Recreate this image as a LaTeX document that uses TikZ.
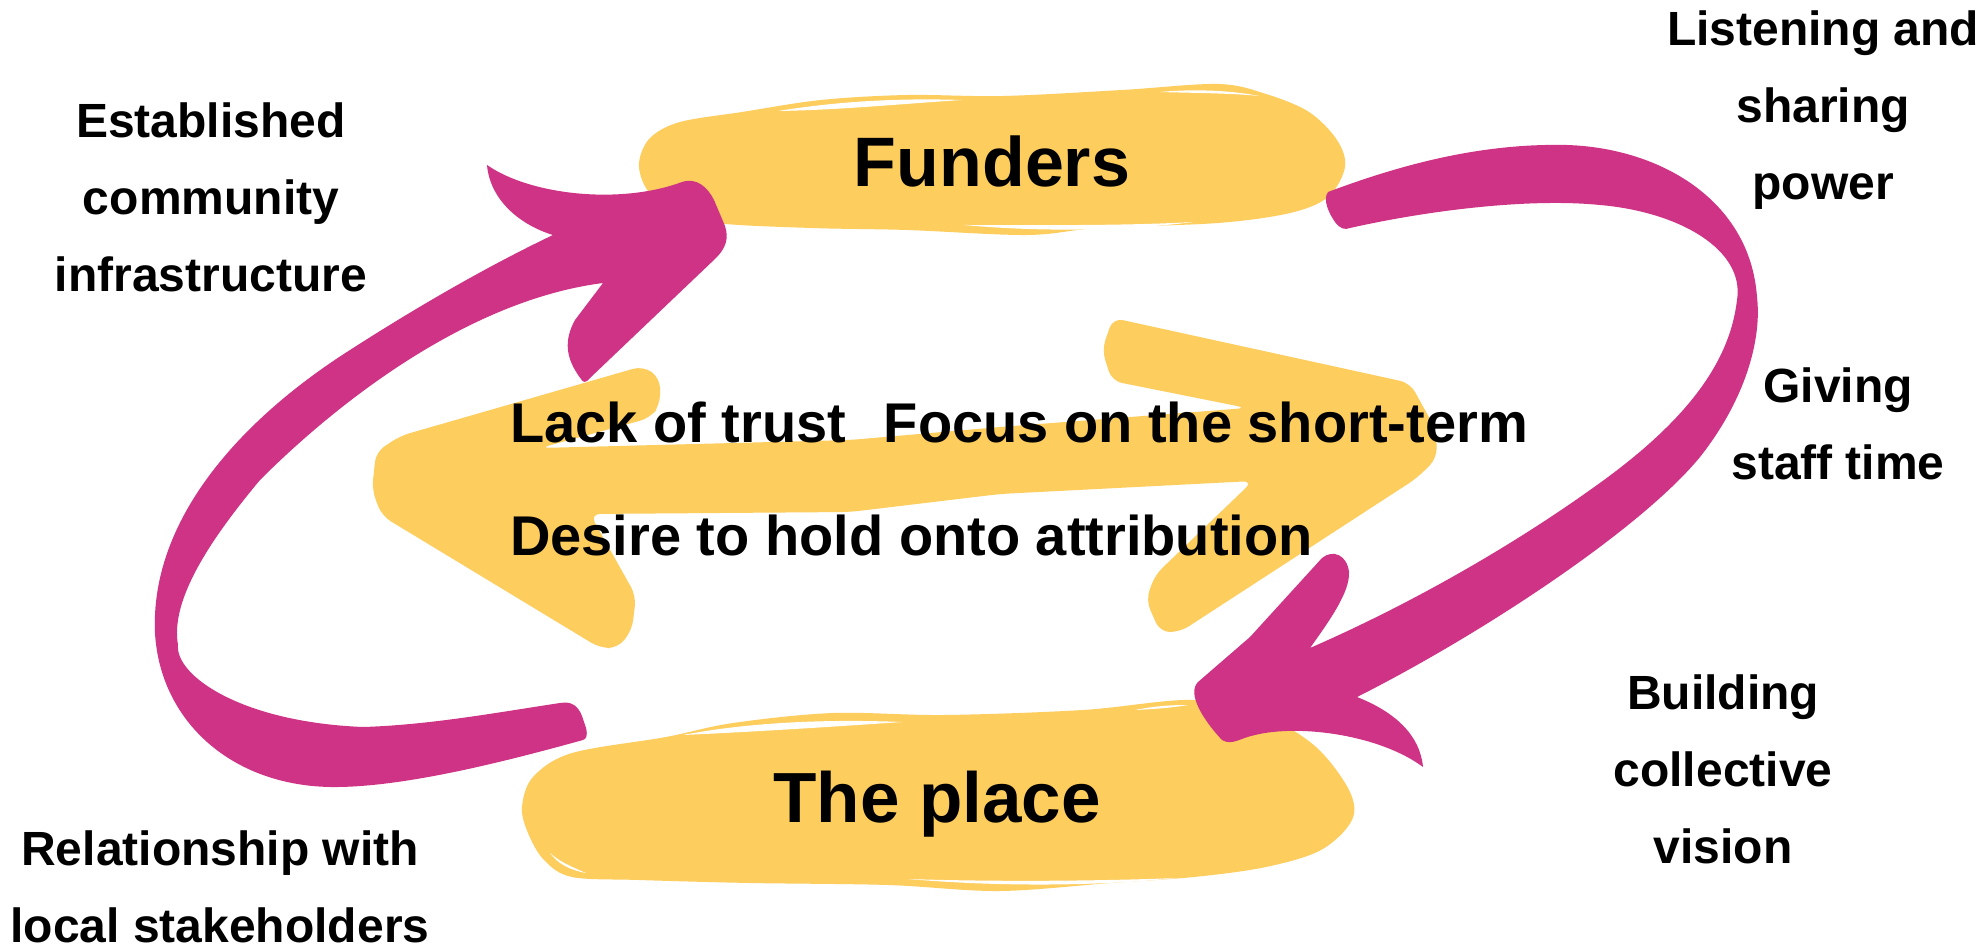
\documentclass[tikz,border=0pt]{standalone}
\usepackage{fontspec}
\setmainfont{Liberation Sans}
\definecolor{ylw}{RGB}{253,205,94}
\definecolor{mag}{RGB}{207,51,133}
\begin{document}
\begin{tikzpicture}[x=1pt,y=-1pt,
  lbl/.style={font=\fontsize{48}{77}\selectfont\bfseries, align=center, anchor=base, inner sep=0pt},
  midtxt/.style={font=\fontsize{56}{60}\selectfont\bfseries, anchor=base west, inner sep=0pt},
  bigtxt/.style={font=\fontsize{70}{80}\selectfont\bfseries, anchor=base, inner sep=0pt},
  blob/.style={fill=ylw},
  brush/.style={fill=mag},
  streak/.style={fill=white}]
\useasboundingbox (0,0) rectangle (1988,949);
\fill[white] (0,0) rectangle (1988,949);

% ---------- yellow blobs ----------
\fill[blob] plot[smooth cycle, tension=0.55] coordinates {(639,163) (650,138) (680,122) (742,112) (821,100) (907,95) (1003,96) (1122,90) (1218,84) (1266,94) (1309,112) (1337,140) (1345,167) (1328,197) (1290,213) (1218,223) (1098,228) (1027,235) (907,230) (811,228) (716,223) (668,210) (646,188)};
\fill[streak] (778,111) .. controls (840,101) and (900,98) .. (962,100) .. controls (900,104) and (840,110) .. (778,111) -- cycle;
\fill[streak] (1160,92) .. controls (1190,89) and (1230,90) .. (1259,96) .. controls (1230,93) and (1190,93) .. (1160,92) -- cycle;
\fill[streak] (964,225) .. controls (1040,232) and (1120,231) .. (1194,222) .. controls (1120,226) and (1040,225) .. (964,225) -- cycle;

\fill[blob] plot[smooth cycle, tension=0.55] coordinates {(522,807) (533,777) (572,753) (666,737) (733,723) (833,713) (944,715) (1083,710) (1194,700) (1266,717) (1316,747) (1349,790) (1352,820) (1321,850) (1266,867) (1194,877) (1110,883) (999,891) (888,885) (750,883) (639,880) (572,877) (544,860) (528,833)};
\fill[streak] (683,735) .. controls (750,722) and (830,719) .. (902,722) .. controls (830,727) and (750,732) .. (683,735) -- cycle;
\fill[streak] (1135,710) .. controls (1155,706) and (1170,705) .. (1188,705) .. controls (1170,708) and (1155,709) .. (1135,710) -- cycle;
\fill[streak] (908,879) .. controls (1000,887) and (1100,886) .. (1177,878) .. controls (1100,881) and (1000,882) .. (908,879) -- cycle;
\fill[streak] (550,853) .. controls (558,864) and (570,870) .. (586,873) .. controls (570,866) and (560,862) .. (550,853) -- cycle;

% ---------- central double arrow ----------
\fill[blob, rounded corners=10pt] (382,516) -- (372,490) -- (376,452) -- (400,436) -- (643,366) -- (660,378) -- (660,405) -- (650,418) -- (540,448) -- (850,440) -- (1000,427) -- (1247,408) -- (1112,381) -- (1102,350) -- (1113,318) -- (1410,383) -- (1436,430) -- (1437,458) -- (1417,478) -- (1180,632) -- (1160,632) -- (1146,600) -- (1155,575) -- (1253,481) -- (1000,494) -- (850,512) -- (590,514) -- (636,596) -- (632,630) -- (618,648) -- (600,648) -- cycle;

% ---------- magenta arrows ----------
% from the place up to the funders
\fill[brush] (583,740)
 .. controls (500,763) and (400,788) .. (330,787)
 .. controls (230,785) and (160,720) .. (155,633)
 .. controls (150,520) and (240,420) .. (350,350)
 .. controls (420,305) and (490,265) .. (553,235)
 .. controls (520,225) and (490,200) .. (487,165)
 .. controls (530,195) and (620,205) .. (682,182)
 .. controls (697,177) and (708,188) .. (714,200) -- (725,226)
 .. controls (729,238) and (726,248) .. (716,258)
 -- (590,378) .. controls (586,383) and (583,383) .. (581,379)
 .. controls (565,358) and (564,340) .. (575,320) -- (603,283)
 .. controls (470,300) and (340,400) .. (260,480)
 .. controls (210,540) and (170,600) .. (178,645)
 .. controls (175,675) and (240,722) .. (363,727)
 .. controls (430,725) and (500,712) .. (560,703)
 .. controls (572,701) and (578,706) .. (582,716) -- (586,728)
 .. controls (588,736) and (586,739) .. (583,740) -- cycle;

% from the funders down to the place
\fill[brush] (1350,228)
 .. controls (1430,210) and (1530,198) .. (1600,205)
 .. controls (1680,212) and (1745,250) .. (1737,300)
 .. controls (1730,360) and (1690,420) .. (1590,490)
 .. controls (1520,540) and (1420,600) .. (1310,648)
 .. controls (1330,620) and (1350,592) .. (1349,572)
 .. controls (1347,555) and (1333,549) .. (1322,558)
 -- (1250,637) -- (1198,682)
 .. controls (1186,694) and (1205,722) .. (1222,740)
 .. controls (1232,746) and (1240,738) .. (1255,735)
 .. controls (1300,724) and (1380,735) .. (1423,767)
 .. controls (1420,735) and (1395,712) .. (1357,697)
 .. controls (1480,635) and (1640,530) .. (1700,457)
 .. controls (1745,400) and (1762,340) .. (1757,297)
 .. controls (1750,200) and (1660,148) .. (1567,145)
 .. controls (1480,143) and (1400,165) .. (1328,192)
 .. controls (1322,200) and (1330,215) .. (1335,222)
 .. controls (1340,229) and (1345,230) .. (1350,228) -- cycle;

% ---------- texts ----------
\node[bigtxt] (funders) at (992,187) {Funders};
\node[bigtxt, font=\fontsize{71}{80}\selectfont\bfseries] (place) at (937,822) {The place};
\node[midtxt] (lack) at (510,442) {Lack of trust};
\node[midtxt, anchor=base east] (focus) at (1528,442) {Focus on the short-term};
\node[midtxt] (desire) at (510,555) {Desire to hold onto attribution};
\node[lbl] (est) at (211,292) {Established\\community\\infrastructure};
\node[lbl] (listen) at (1823,200) {Listening and\\sharing\\power};
\node[lbl] (giving) at (1838,479) {Giving\\staff time};
\node[lbl] (build) at (1723,863) {Building\\collective\\vision};
\node[lbl] (rel) at (220,942) {Relationship with\\local stakeholders};
\end{tikzpicture}
\end{document}
